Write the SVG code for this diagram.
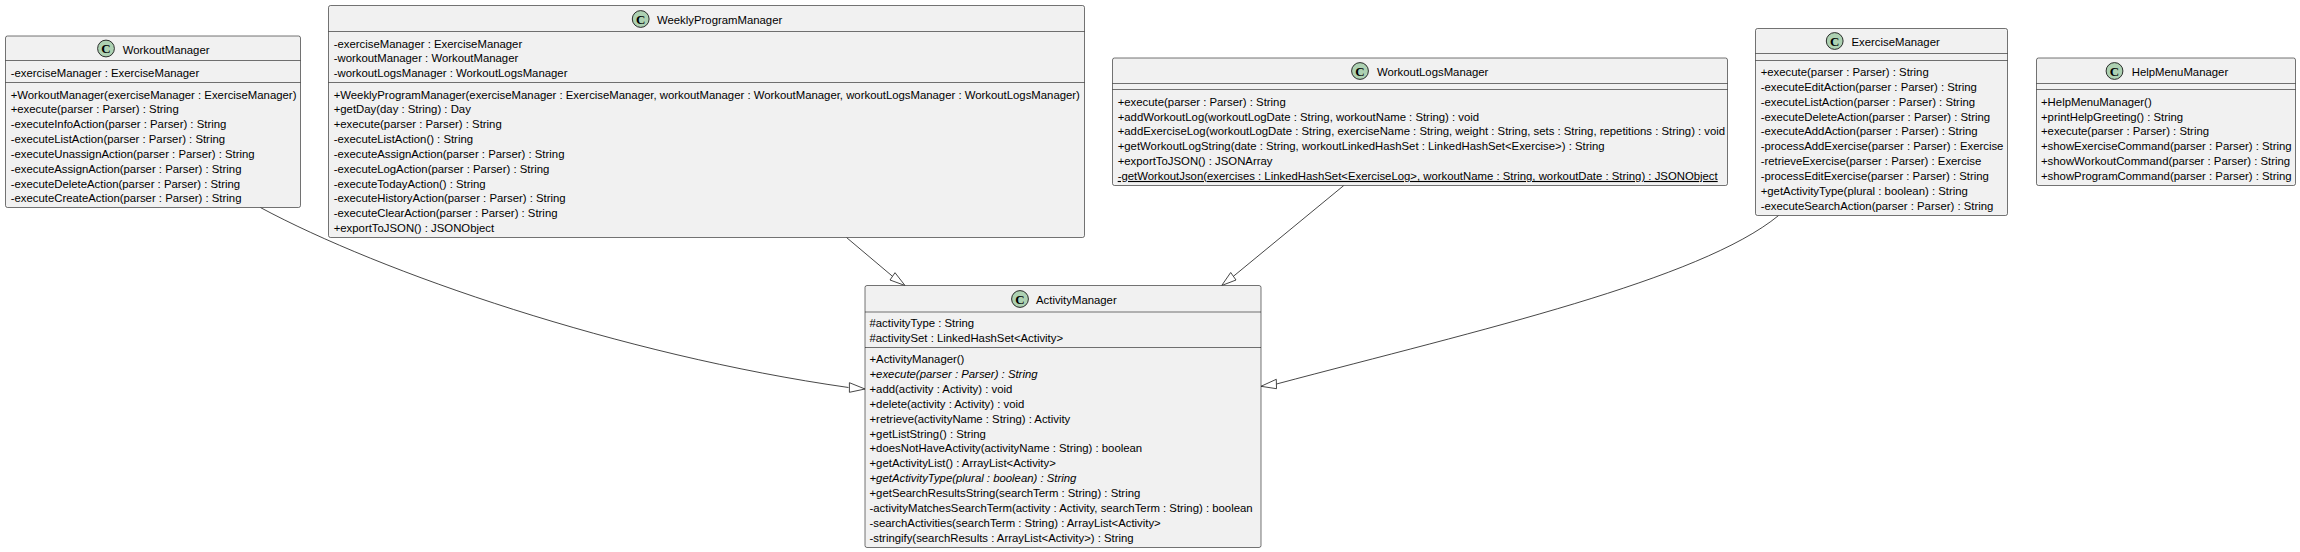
<svg xmlns="http://www.w3.org/2000/svg" width="2300" height="552" viewBox="0 0 2300 552">
<style>
text{font-family:"Liberation Sans",Arial,sans-serif;font-size:11.35px;fill:#000}
.box{fill:#F1F1F1;stroke:#181818;stroke-width:.6}
.sep{stroke:#181818;stroke-width:.6}
.sp{fill:#ADD1B2;stroke:#181818;stroke-width:.9}
.c{font-family:"Liberation Serif",serif;font-weight:bold;font-size:13px;text-anchor:middle}
.i{font-style:italic}
.u{text-decoration:underline}
.e{fill:none;stroke:#181818;stroke-width:.8}
.h{fill:#fff;stroke:#181818;stroke-width:.8}
</style>
<g id="connectors">
<path class="e" d="M260.4,207.5C380,272 620,355 848.5,387.5"/>
<polygon class="h" points="865,389 849.4,382.7 849.4,392.3"/>
<path class="e" d="M846.5,237.5L892.5,276.3"/>
<polygon class="h" points="905,285.5 890,280 895,272.7"/>
<path class="e" d="M1343.8,185.5L1233.4,276.3"/>
<polygon class="h" points="1221.7,285.5 1236,280 1230.7,272.5"/>
<path class="e" d="M1778.6,215.5C1700,280 1480,330 1276.5,384"/>
<polygon class="h" points="1261,386.3 1276.3,379.3 1276.5,388.7"/>
</g>
<g id="WorkoutManager">
<rect class="box" x="5.5" y="36" width="295" height="171.5" rx="2"/>
<path class="sep" d="M5.5,60.5H300.5M5.5,82.5H300.5"/>
<circle class="sp" cx="106" cy="48.5" r="8.4"/><text class="c" x="106" y="53">C</text>
<text x="122.7" y="53.5">WorkoutManager</text>
<text x="10.7" y="77">-exerciseManager : ExerciseManager</text>
<text x="10.7" y="98.5">+WorkoutManager(exerciseManager : ExerciseManager)</text>
<text x="10.7" y="113.35">+execute(parser : Parser) : String</text>
<text x="10.7" y="128.2">-executeInfoAction(parser : Parser) : String</text>
<text x="10.7" y="143.05">-executeListAction(parser : Parser) : String</text>
<text x="10.7" y="157.9">-executeUnassignAction(parser : Parser) : String</text>
<text x="10.7" y="172.75">-executeAssignAction(parser : Parser) : String</text>
<text x="10.7" y="187.6">-executeDeleteAction(parser : Parser) : String</text>
<text x="10.7" y="202.45">-executeCreateAction(parser : Parser) : String</text>
</g>
<g id="WeeklyProgramManager">
<rect class="box" x="328.5" y="5.5" width="756" height="232" rx="2"/>
<path class="sep" d="M328.5,31.5H1084.5M328.5,82.5H1084.5"/>
<circle class="sp" cx="640.7" cy="19" r="8.4"/><text class="c" x="640.7" y="23.5">C</text>
<text x="657" y="23.5">WeeklyProgramManager</text>
<text x="333.7" y="47.5">-exerciseManager : ExerciseManager</text>
<text x="333.7" y="62.3">-workoutManager : WorkoutManager</text>
<text x="333.7" y="77">-workoutLogsManager : WorkoutLogsManager</text>
<text x="333.7" y="98.5">+WeeklyProgramManager(exerciseManager : ExerciseManager, workoutManager : WorkoutManager, workoutLogsManager : WorkoutLogsManager)</text>
<text x="333.7" y="113.35">+getDay(day : String) : Day</text>
<text x="333.7" y="128.2">+execute(parser : Parser) : String</text>
<text x="333.7" y="143.05">-executeListAction() : String</text>
<text x="333.7" y="157.9">-executeAssignAction(parser : Parser) : String</text>
<text x="333.7" y="172.75">-executeLogAction(parser : Parser) : String</text>
<text x="333.7" y="187.6">-executeTodayAction() : String</text>
<text x="333.7" y="202.45">-executeHistoryAction(parser : Parser) : String</text>
<text x="333.7" y="217.3">-executeClearAction(parser : Parser) : String</text>
<text x="333.7" y="232.15">+exportToJSON() : JSONObject</text>
</g>
<g id="WorkoutLogsManager">
<rect class="box" x="1112.5" y="58" width="615" height="127.5" rx="2"/>
<path class="sep" d="M1112.5,83.5H1727.5M1112.5,89.5H1727.5"/>
<circle class="sp" cx="1360" cy="71" r="8.4"/><text class="c" x="1360" y="75.5">C</text>
<text x="1377" y="76">WorkoutLogsManager</text>
<text x="1117.7" y="105.7">+execute(parser : Parser) : String</text>
<text x="1117.7" y="120.55">+addWorkoutLog(workoutLogDate : String, workoutName : String) : void</text>
<text x="1117.7" y="135.4">+addExerciseLog(workoutLogDate : String, exerciseName : String, weight : String, sets : String, repetitions : String) : void</text>
<text x="1117.7" y="150.25">+getWorkoutLogString(date : String, workoutLinkedHashSet : LinkedHashSet&lt;Exercise&gt;) : String</text>
<text x="1117.7" y="165.1">+exportToJSON() : JSONArray</text>
<text class="u" x="1117.7" y="179.95">-getWorkoutJson(exercises : LinkedHashSet&lt;ExerciseLog&gt;, workoutName : String, workoutDate : String) : JSONObject</text>
</g>
<g id="ExerciseManager">
<rect class="box" x="1755.5" y="28.5" width="252" height="187" rx="2"/>
<path class="sep" d="M1755.5,53.5H2007.5M1755.5,60.5H2007.5"/>
<circle class="sp" cx="1834.7" cy="41" r="8.4"/><text class="c" x="1834.7" y="45.5">C</text>
<text x="1851.5" y="46">ExerciseManager</text>
<text x="1760.7" y="76">+execute(parser : Parser) : String</text>
<text x="1760.7" y="90.85">-executeEditAction(parser : Parser) : String</text>
<text x="1760.7" y="105.7">-executeListAction(parser : Parser) : String</text>
<text x="1760.7" y="120.55">-executeDeleteAction(parser : Parser) : String</text>
<text x="1760.7" y="135.4">-executeAddAction(parser : Parser) : String</text>
<text x="1760.7" y="150.25">-processAddExercise(parser : Parser) : Exercise</text>
<text x="1760.7" y="165.1">-retrieveExercise(parser : Parser) : Exercise</text>
<text x="1760.7" y="179.95">-processEditExercise(parser : Parser) : String</text>
<text x="1760.7" y="194.8">+getActivityType(plural : boolean) : String</text>
<text x="1760.7" y="209.65">-executeSearchAction(parser : Parser) : String</text>
</g>
<g id="HelpMenuManager">
<rect class="box" x="2036.5" y="58" width="259" height="127.5" rx="2"/>
<path class="sep" d="M2036.5,83.5H2295.5M2036.5,89.5H2295.5"/>
<circle class="sp" cx="2114.5" cy="71" r="8.4"/><text class="c" x="2114.5" y="75.5">C</text>
<text x="2131.7" y="76">HelpMenuManager</text>
<text x="2041" y="105.7">+HelpMenuManager()</text>
<text x="2041" y="120.55">+printHelpGreeting() : String</text>
<text x="2041" y="135.4">+execute(parser : Parser) : String</text>
<text x="2041" y="150.25">+showExerciseCommand(parser : Parser) : String</text>
<text x="2041" y="165.1">+showWorkoutCommand(parser : Parser) : String</text>
<text x="2041" y="179.95">+showProgramCommand(parser : Parser) : String</text>
</g>
<g id="ActivityManager">
<rect class="box" x="865" y="285.5" width="396" height="262" rx="2"/>
<path class="sep" d="M865,312H1261M865,347.5H1261"/>
<circle class="sp" cx="1020" cy="299" r="8.4"/><text class="c" x="1020" y="303.5">C</text>
<text x="1036" y="303.5">ActivityManager</text>
<text x="869.5" y="327">#activityType : String</text>
<text x="869.5" y="341.8">#activitySet : LinkedHashSet&lt;Activity&gt;</text>
<text x="869.5" y="363.3">+ActivityManager()</text>
<text class="i" x="869.5" y="378.15">+execute(parser : Parser) : String</text>
<text x="869.5" y="393">+add(activity : Activity) : void</text>
<text x="869.5" y="407.85">+delete(activity : Activity) : void</text>
<text x="869.5" y="422.7">+retrieve(activityName : String) : Activity</text>
<text x="869.5" y="437.55">+getListString() : String</text>
<text x="869.5" y="452.4">+doesNotHaveActivity(activityName : String) : boolean</text>
<text x="869.5" y="467.25">+getActivityList() : ArrayList&lt;Activity&gt;</text>
<text class="i" x="869.5" y="482.1">+getActivityType(plural : boolean) : String</text>
<text x="869.5" y="496.95">+getSearchResultsString(searchTerm : String) : String</text>
<text x="869.5" y="511.8">-activityMatchesSearchTerm(activity : Activity, searchTerm : String) : boolean</text>
<text x="869.5" y="526.65">-searchActivities(searchTerm : String) : ArrayList&lt;Activity&gt;</text>
<text x="869.5" y="541.5">-stringify(searchResults : ArrayList&lt;Activity&gt;) : String</text>
</g>
</svg>
